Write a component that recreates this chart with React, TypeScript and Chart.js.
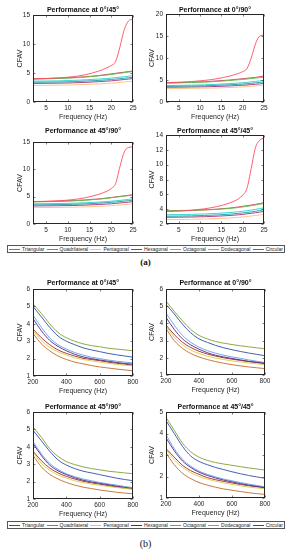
import React, { useEffect, useRef } from "react";
import { Chart, registerables } from "chart.js";

Chart.register(...registerables);

const FONT = "'Liberation Sans', Arial, sans-serif";
const INK = "#262626";

// Legend order
const seriesNames = ["Triangular", "Quadrilateral", "Pentagonal", "Hexagonal", "Octagonal", "Dodecagonal", "Circular"];
const colorsA = ["#1d9aaa", "#ff4d5e", "#ffbd80", "#a2307f", "#5cbf48", "#22d2c8", "#d92f5a"];
const colorsB = ["#3050a8", "#c46a2a", "#d6cf3c", "#5c2080", "#80a22e", "#5aa2ea", "#982a2a"];

// Frequency samples
const freqA = [2, 5, 8, 11, 14, 17, 19, 20, 21, 22, 23, 24, 25];
const freqB = [200, 250, 300, 350, 400, 450, 500, 550, 600, 650, 700, 750, 800];

// Tick labels
const xTicksA = [5, 10, 15, 20, 25];
const xTicksB = [200, 400, 600, 800];
const yTicksA1 = [0, 5, 10, 15];
const yTicksA2 = [0, 5, 10, 15, 20];
const yTicksA3 = [0, 5, 10, 15];
const yTicksA4 = [2, 4, 6, 8, 10, 12, 14];
const yTicksB1 = [1, 2, 3, 4, 5, 6];
const yTicksB2 = [1, 2, 3, 4, 5, 6];
const yTicksB3 = [1, 2, 3, 4, 5, 6];
const yTicksB4 = [1, 2, 3, 4, 5];

// (a) Performance at 0°/45°  (series in legend order)
const a1Tri = [3.4, 3.42, 3.45, 3.5, 3.6, 3.72, 3.82, 3.88, 3.95, 4.02, 4.1, 4.18, 4.27];
const a1Quad = [4.0, 4.05, 4.15, 4.35, 4.7, 5.3, 5.9, 6.3, 7.0, 9.5, 12.5, 14.0, 14.3];
const a1Pent = [2.85, 2.87, 2.9, 2.95, 3.02, 3.12, 3.2, 3.25, 3.3, 3.38, 3.45, 3.52, 3.6];
const a1Hex = [3.2, 3.22, 3.25, 3.3, 3.38, 3.5, 3.6, 3.65, 3.72, 3.8, 3.88, 3.96, 4.05];
const a1Oct = [3.95, 4.0, 4.05, 4.15, 4.3, 4.5, 4.65, 4.75, 4.85, 4.95, 5.05, 5.15, 5.25];
const a1Dodec = [3.6, 3.62, 3.65, 3.72, 3.82, 3.95, 4.05, 4.12, 4.2, 4.28, 4.36, 4.45, 4.55];
const a1Circ = [4.0, 4.05, 4.12, 4.2, 4.35, 4.55, 4.75, 4.85, 4.95, 5.05, 5.15, 5.25, 5.35];

// (a) Performance at 0°/90°
const a2Tri = [3.55, 3.58, 3.62, 3.68, 3.78, 3.92, 4.02, 4.08, 4.16, 4.25, 4.35, 4.45, 4.58];
const a2Quad = [4.4, 4.5, 4.65, 4.9, 5.3, 5.9, 6.5, 6.9, 7.6, 10.0, 13.2, 15.0, 15.2];
const a2Pent = [3.05, 3.07, 3.1, 3.14, 3.2, 3.3, 3.38, 3.43, 3.5, 3.57, 3.65, 3.73, 3.82];
const a2Hex = [3.35, 3.37, 3.4, 3.45, 3.53, 3.65, 3.75, 3.8, 3.87, 3.95, 4.03, 4.12, 4.22];
const a2Oct = [4.3, 4.35, 4.42, 4.52, 4.68, 4.88, 5.05, 5.12, 5.22, 5.32, 5.42, 5.55, 5.65];
const a2Dodec = [3.75, 3.78, 3.83, 3.9, 4.02, 4.18, 4.3, 4.38, 4.47, 4.57, 4.68, 4.8, 4.95];
const a2Circ = [4.35, 4.4, 4.5, 4.6, 4.8, 5.0, 5.2, 5.3, 5.4, 5.5, 5.6, 5.75, 5.9];

// (a) Performance at 45°/90°
const a3Tri = [3.5, 3.52, 3.55, 3.6, 3.68, 3.8, 3.9, 3.96, 4.03, 4.1, 4.18, 4.27, 4.37];
const a3Quad = [4.1, 4.15, 4.25, 4.45, 4.8, 5.4, 6.0, 6.5, 7.4, 10.5, 13.2, 14.0, 14.1];
const a3Pent = [3.0, 3.01, 3.03, 3.07, 3.13, 3.22, 3.3, 3.35, 3.41, 3.48, 3.55, 3.63, 3.72];
const a3Hex = [3.3, 3.32, 3.34, 3.38, 3.45, 3.56, 3.65, 3.7, 3.77, 3.84, 3.92, 4.0, 4.1];
const a3Oct = [4.05, 4.08, 4.13, 4.22, 4.35, 4.53, 4.7, 4.8, 4.9, 5.0, 5.1, 5.2, 5.3];
const a3Dodec = [3.7, 3.72, 3.75, 3.8, 3.88, 4.0, 4.1, 4.17, 4.24, 4.32, 4.41, 4.5, 4.6];
const a3Circ = [4.1, 4.12, 4.18, 4.27, 4.4, 4.58, 4.75, 4.85, 4.95, 5.05, 5.15, 5.25, 5.35];

// (a) Performance at 45°/45°
const a4Tri = [3.05, 3.07, 3.1, 3.15, 3.22, 3.33, 3.43, 3.49, 3.56, 3.63, 3.72, 3.82, 3.92];
const a4Quad = [3.7, 3.75, 3.85, 4.05, 4.35, 4.85, 5.4, 5.9, 6.8, 9.5, 12.3, 13.3, 13.6];
const a4Pent = [2.6, 2.61, 2.63, 2.67, 2.73, 2.82, 2.9, 2.95, 3.01, 3.08, 3.15, 3.23, 3.32];
const a4Hex = [2.9, 2.92, 2.94, 2.98, 3.05, 3.15, 3.24, 3.3, 3.37, 3.44, 3.52, 3.6, 3.7];
const a4Oct = [3.8, 3.82, 3.85, 3.9, 3.98, 4.1, 4.22, 4.3, 4.38, 4.47, 4.56, 4.66, 4.78];
const a4Dodec = [3.25, 3.27, 3.3, 3.35, 3.43, 3.55, 3.65, 3.72, 3.8, 3.88, 3.97, 4.07, 4.18];
const a4Circ = [3.75, 3.78, 3.82, 3.9, 4.0, 4.15, 4.3, 4.38, 4.46, 4.55, 4.65, 4.75, 4.88];

// (b) Performance at 0°/45°
const b1Tri = [5.0, 4.4, 3.8, 3.3, 3.0, 2.8, 2.62, 2.5, 2.4, 2.3, 2.22, 2.15, 2.08];
const b1Quad = [3.45, 2.85, 2.45, 2.15, 1.95, 1.8, 1.7, 1.6, 1.52, 1.46, 1.4, 1.35, 1.3];
const b1Pent = [3.6, 3.05, 2.65, 2.4, 2.2, 2.05, 1.95, 1.87, 1.8, 1.73, 1.67, 1.62, 1.58];
const b1Hex = [4.3, 3.6, 3.05, 2.7, 2.45, 2.25, 2.1, 2.0, 1.92, 1.85, 1.78, 1.72, 1.68];
const b1Oct = [5.15, 4.6, 4.0, 3.5, 3.2, 3.0, 2.85, 2.75, 2.68, 2.6, 2.55, 2.5, 2.45];
const b1Dodec = [4.5, 3.8, 3.2, 2.8, 2.55, 2.35, 2.2, 2.08, 2.0, 1.92, 1.85, 1.8, 1.75];
const b1Circ = [3.7, 3.2, 2.8, 2.5, 2.3, 2.15, 2.02, 1.95, 1.88, 1.8, 1.73, 1.68, 1.62];

// (b) Performance at 0°/90°
const b2Tri = [5.1, 4.55, 3.95, 3.45, 3.1, 2.9, 2.72, 2.58, 2.47, 2.37, 2.28, 2.2, 2.12];
const b2Quad = [3.7, 3.0, 2.55, 2.25, 2.05, 1.9, 1.78, 1.68, 1.6, 1.53, 1.47, 1.42, 1.37];
const b2Pent = [3.85, 3.2, 2.75, 2.45, 2.25, 2.1, 1.98, 1.9, 1.82, 1.76, 1.7, 1.65, 1.6];
const b2Hex = [4.35, 3.65, 3.1, 2.75, 2.5, 2.3, 2.15, 2.05, 1.96, 1.88, 1.8, 1.74, 1.68];
const b2Oct = [5.3, 4.7, 4.15, 3.65, 3.3, 3.1, 2.95, 2.85, 2.77, 2.7, 2.64, 2.58, 2.52];
const b2Dodec = [4.6, 3.9, 3.3, 2.9, 2.62, 2.42, 2.27, 2.15, 2.05, 1.97, 1.88, 1.8, 1.72];
const b2Circ = [3.9, 3.35, 2.9, 2.6, 2.38, 2.22, 2.1, 2.0, 1.92, 1.85, 1.78, 1.72, 1.66];

// (b) Performance at 45°/90°
const b3Tri = [4.95, 4.35, 3.75, 3.25, 2.95, 2.75, 2.6, 2.5, 2.4, 2.3, 2.2, 2.12, 2.05];
const b3Quad = [3.5, 2.85, 2.42, 2.15, 1.95, 1.8, 1.68, 1.6, 1.52, 1.45, 1.39, 1.34, 1.3];
const b3Pent = [3.7, 3.05, 2.65, 2.38, 2.2, 2.05, 1.95, 1.86, 1.79, 1.72, 1.66, 1.61, 1.56];
const b3Hex = [4.2, 3.5, 2.95, 2.62, 2.4, 2.22, 2.08, 1.98, 1.9, 1.82, 1.74, 1.67, 1.6];
const b3Oct = [5.15, 4.55, 3.9, 3.45, 3.15, 2.98, 2.85, 2.75, 2.68, 2.6, 2.55, 2.5, 2.45];
const b3Dodec = [4.3, 3.6, 3.05, 2.7, 2.45, 2.28, 2.15, 2.05, 1.95, 1.87, 1.8, 1.72, 1.65];
const b3Circ = [3.75, 3.2, 2.78, 2.5, 2.3, 2.15, 2.02, 1.93, 1.85, 1.77, 1.7, 1.63, 1.58];

// (b) Performance at 45°/45°
const b4Tri = [4.6, 4.0, 3.4, 2.95, 2.7, 2.55, 2.42, 2.32, 2.22, 2.13, 2.05, 1.98, 1.92];
const b4Quad = [3.1, 2.55, 2.15, 1.9, 1.72, 1.6, 1.5, 1.42, 1.36, 1.3, 1.25, 1.2, 1.17];
const b4Pent = [3.25, 2.78, 2.42, 2.18, 2.0, 1.88, 1.78, 1.7, 1.63, 1.57, 1.51, 1.47, 1.43];
const b4Hex = [3.8, 3.2, 2.72, 2.42, 2.2, 2.05, 1.93, 1.83, 1.75, 1.67, 1.6, 1.54, 1.48];
const b4Oct = [4.75, 4.15, 3.55, 3.15, 2.9, 2.75, 2.65, 2.58, 2.52, 2.46, 2.4, 2.35, 2.3];
const b4Dodec = [3.95, 3.3, 2.8, 2.48, 2.25, 2.1, 1.98, 1.88, 1.8, 1.72, 1.65, 1.58, 1.52];
const b4Circ = [3.3, 2.9, 2.52, 2.27, 2.1, 1.95, 1.85, 1.77, 1.7, 1.63, 1.57, 1.52, 1.47];

type Spec = {
  title: string;
  L: number; T: number; R: number; B: number; titleY: number; cx: number;
  x: number[]; xMin: number; xMax: number; xTicks: number[];
  yMin: number; yMax: number; yTicks: number[];
  series: number[][]; colors: string[];
};

const specs: Spec[] = [
  { title: "Performance at 0°/45°", L: 33, T: 15, R: 133, B: 102, titleY: 10, cx: 13,
    x: freqA, xMin: 2, xMax: 25, xTicks: xTicksA, yMin: 0, yMax: 15, yTicks: yTicksA1,
    series: [a1Tri, a1Quad, a1Pent, a1Hex, a1Oct, a1Dodec, a1Circ], colors: colorsA },
  { title: "Performance at 0°/90°", L: 166, T: 14, R: 264, B: 102, titleY: 10, cx: 145,
    x: freqA, xMin: 2, xMax: 25, xTicks: xTicksA, yMin: 0, yMax: 20, yTicks: yTicksA2,
    series: [a2Tri, a2Quad, a2Pent, a2Hex, a2Oct, a2Dodec, a2Circ], colors: colorsA },
  { title: "Performance at 45°/90°", L: 33, T: 142, R: 133, B: 224, titleY: 131, cx: 13,
    x: freqA, xMin: 2, xMax: 25, xTicks: xTicksA, yMin: 0, yMax: 15, yTicks: yTicksA3,
    series: [a3Tri, a3Quad, a3Pent, a3Hex, a3Oct, a3Dodec, a3Circ], colors: colorsA },
  { title: "Performance at 45°/45°", L: 166, T: 135, R: 264, B: 224, titleY: 131, cx: 145,
    x: freqA, xMin: 2, xMax: 25, xTicks: xTicksA, yMin: 2, yMax: 14, yTicks: yTicksA4,
    series: [a4Tri, a4Quad, a4Pent, a4Hex, a4Oct, a4Dodec, a4Circ], colors: colorsA },
  { title: "Performance at 0°/45°", L: 33, T: 289, R: 133, B: 376, titleY: 283, cx: 13,
    x: freqB, xMin: 200, xMax: 800, xTicks: xTicksB, yMin: 1, yMax: 6, yTicks: yTicksB1,
    series: [b1Tri, b1Quad, b1Pent, b1Hex, b1Oct, b1Dodec, b1Circ], colors: colorsB },
  { title: "Performance at 0°/90°", L: 166, T: 289, R: 265, B: 375, titleY: 283, cx: 145,
    x: freqB, xMin: 200, xMax: 800, xTicks: xTicksB, yMin: 1, yMax: 6, yTicks: yTicksB2,
    series: [b2Tri, b2Quad, b2Pent, b2Hex, b2Oct, b2Dodec, b2Circ], colors: colorsB },
  { title: "Performance at 45°/90°", L: 33, T: 412, R: 133, B: 499, titleY: 407, cx: 13,
    x: freqB, xMin: 200, xMax: 800, xTicks: xTicksB, yMin: 1, yMax: 6, yTicks: yTicksB3,
    series: [b3Tri, b3Quad, b3Pent, b3Hex, b3Oct, b3Dodec, b3Circ], colors: colorsB },
  { title: "Performance at 45°/45°", L: 166, T: 412, R: 265, B: 498, titleY: 407, cx: 145,
    x: freqB, xMin: 200, xMax: 800, xTicks: xTicksB, yMin: 1, yMax: 5, yTicks: yTicksB4,
    series: [b4Tri, b4Quad, b4Pent, b4Hex, b4Oct, b4Dodec, b4Circ], colors: colorsB },
];

const PAD_RIGHT = 8;
const X_AXIS_H = 19;
const TITLE_SIZE = 7;
const TITLE_LH = TITLE_SIZE * 1.2;

const boxPlugin = {
  id: "matlabBox",
  afterDatasetsDraw(chart: any) {
    const { ctx, chartArea: a, scales } = chart;
    const l = Math.round(a.left) + 0.5;
    const r = Math.round(a.right) - 0.5;
    const t = Math.round(a.top) + 0.5;
    const b = Math.round(a.bottom) - 0.5;
    ctx.save();
    ctx.strokeStyle = INK;
    ctx.lineWidth = 1;
    ctx.strokeRect(l, t, r - l, b - t);
    ctx.beginPath();
    const tl = 2;
    scales.x.ticks.forEach((tk: any) => {
      const px = Math.round(scales.x.getPixelForValue(tk.value)) + 0.5;
      ctx.moveTo(px, b); ctx.lineTo(px, b - tl);
      ctx.moveTo(px, t); ctx.lineTo(px, t + tl);
    });
    scales.y.ticks.forEach((tk: any) => {
      const py = Math.round(scales.y.getPixelForValue(tk.value)) + 0.5;
      ctx.moveTo(l, py); ctx.lineTo(l + tl, py);
      ctx.moveTo(r, py); ctx.lineTo(r - tl, py);
    });
    ctx.lineWidth = 0.6;
    ctx.stroke();
    ctx.restore();
  },
};

function SubPlot({ spec }: { spec: Spec }) {
  const ref = useRef<HTMLCanvasElement>(null);
  const top = Math.round(spec.titleY - 1 - TITLE_LH / 2);
  const width = spec.R + PAD_RIGHT - spec.cx;
  const height = spec.B + X_AXIS_H - top;
  const titlePadBottom = spec.T - top - 1 - TITLE_LH;

  useEffect(() => {
    if (!ref.current) return;
    const tickFont = { family: FONT, size: 6.5 };
    const chart = new Chart(ref.current, {
      type: "line",
      data: {
        datasets: spec.series.map((ys, i) => ({
          label: seriesNames[i],
          data: spec.x.map((x, j) => ({ x, y: ys[j] })),
          borderColor: spec.colors[i],
          backgroundColor: spec.colors[i],
          borderWidth: 0.9,
          pointRadius: 0,
          cubicInterpolationMode: "monotone" as const,
          fill: false,
        })),
      },
      options: {
        animation: false,
        responsive: false,
        events: [],
        layout: { padding: { left: 0, right: PAD_RIGHT, top: 0, bottom: 0 } },
        plugins: {
          legend: { display: false },
          tooltip: { enabled: false },
          title: {
            display: true,
            fullSize: false,
            text: spec.title,
            color: "#111",
            font: { family: FONT, size: TITLE_SIZE, weight: "bold" },
            padding: { top: 1, bottom: titlePadBottom },
          },
        },
        scales: {
          x: {
            type: "linear",
            min: spec.xMin,
            max: spec.xMax,
            afterBuildTicks: (s: any) => { s.ticks = spec.xTicks.map((v) => ({ value: v })); },
            afterFit: (s: any) => { s.height = X_AXIS_H; },
            grid: { display: false, drawTicks: false, tickLength: 0 },
            border: { display: false },
            ticks: { font: tickFont, color: INK, padding: 2, maxRotation: 0, autoSkip: false },
            title: { display: true, text: "Frequency (Hz)", color: INK, font: { family: FONT, size: 7 }, padding: { top: 0, bottom: 0 } },
          },
          y: {
            type: "linear",
            min: spec.yMin,
            max: spec.yMax,
            afterBuildTicks: (s: any) => { s.ticks = spec.yTicks.map((v) => ({ value: v })); },
            afterFit: (s: any) => { s.width = spec.L - spec.cx; },
            grid: { display: false, drawTicks: false, tickLength: 0 },
            border: { display: false },
            ticks: { font: tickFont, color: INK, padding: 3, autoSkip: false },
            title: { display: true, text: "CFAV", color: INK, font: { family: FONT, size: 7 }, padding: { top: 3, bottom: 0 } },
          },
        },
      },
      plugins: [boxPlugin],
    } as any);
    return () => chart.destroy();
  }, [spec]);

  return (
    <canvas
      ref={ref}
      width={width}
      height={height}
      style={{ position: "absolute", left: spec.cx, top, width, height }}
    />
  );
}

function Legend({ colors, top }: { colors: string[]; top: number }) {
  return (
    <div
      style={{
        position: "absolute", left: 7, top, width: 276, height: 6,
        border: "1px solid #555", display: "flex", justifyContent: "space-around",
        alignItems: "center", fontFamily: FONT, fontSize: 5, color: INK, background: "#fff",
      }}
    >
      {seriesNames.map((n, i) => (
        <div key={n} style={{ display: "flex", alignItems: "center", whiteSpace: "nowrap" }}>
          <span style={{ display: "inline-block", width: 11, height: 0, borderTop: `1px solid ${colors[i]}`, marginRight: 2 }} />
          <span>{n}</span>
        </div>
      ))}
    </div>
  );
}

export default function App() {
  return (
    <div style={{ position: "absolute", left: 0, top: 0, width: 291, height: 550, background: "#fff", overflow: "hidden" }}>
      {specs.map((s, i) => <SubPlot key={i} spec={s} />)}
      <Legend colors={colorsA} top={245} />
      <div style={{ position: "absolute", left: 0, top: 256, width: 291, textAlign: "center", fontFamily: "'Liberation Serif', serif", fontWeight: "bold", fontSize: 9, lineHeight: "12px", color: "#111" }}>(a)</div>
      <Legend colors={colorsB} top={521} />
      <div style={{ position: "absolute", left: 0, top: 538, width: 291, textAlign: "center", fontFamily: "'Liberation Serif', serif", fontSize: 10, lineHeight: "12px", color: "#111" }}>(b)</div>
    </div>
  );
}
